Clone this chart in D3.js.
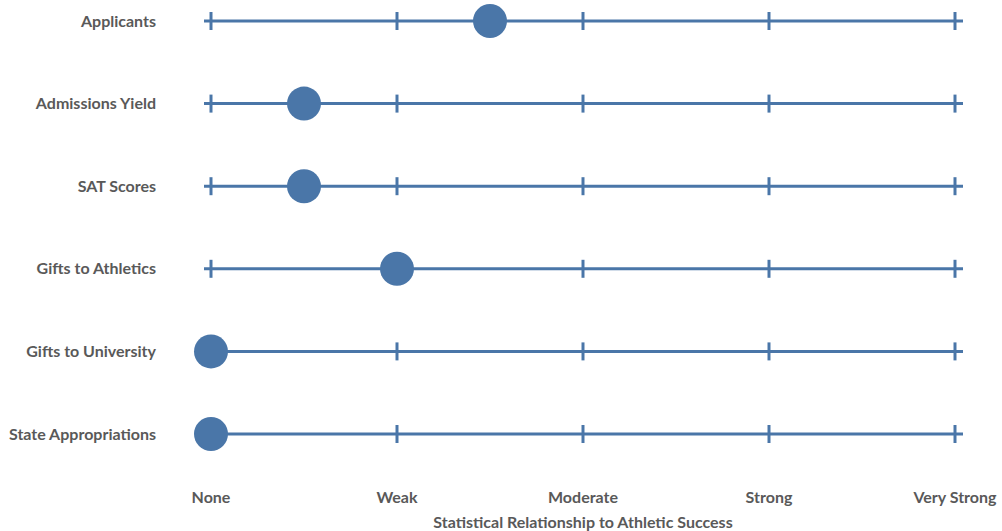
<!DOCTYPE html>
<html><head><meta charset="utf-8">
<script src="https://cdn.jsdelivr.net/npm/d3@7"></script>
<style>body{margin:0;background:#fff}text{font-family:Lato,"Open Sans",sans-serif;font-weight:bold;fill:#595959}</style>
</head><body><svg id="c" width="1002" height="531"></svg>
<script>
const categories = ["Applicants","Admissions Yield","SAT Scores","Gifts to Athletics","Gifts to University","State Appropriations"];
const values = [1.5, 0.5, 0.5, 1.0, 0, 0];
const tickLabels = ["None","Weak","Moderate","Strong","Very Strong"];
const axisTitle = "Statistical Relationship to Athletic Success";

const color = "#4a76a8";
const svg = d3.select("#c");
const x = d3.scaleLinear().domain([0,4]).range([211,955]);
const y = d3.scalePoint().domain(categories).range([21,434]);

const rows = svg.selectAll("g.row").data(categories).join("g").attr("class","row")
  .attr("transform", d => `translate(0,${y(d)})`);
rows.append("line").attr("x1", x(0)-7).attr("x2", x(4)+8).attr("y1",0).attr("y2",0)
  .attr("stroke", color).attr("stroke-width", 3);
rows.selectAll("line.tk").data(d3.range(5)).join("line").attr("class","tk")
  .attr("x1", d=>x(d)).attr("x2", d=>x(d)).attr("y1",-9).attr("y2",9)
  .attr("stroke", color).attr("stroke-width", 3);
rows.append("text").attr("x",156).attr("y",0).attr("dy","0.35em").attr("text-anchor","end")
  .attr("font-size",16).text(d=>d);
rows.append("circle").attr("cx",(d,i)=>x(values[i])).attr("cy",0).attr("r",17).attr("fill",color);

svg.selectAll("text.tl").data(tickLabels).join("text").attr("class","tl")
  .attr("x",(d,i)=>x(i)).attr("y",497).attr("dy","0.35em").attr("text-anchor","middle")
  .attr("font-size",16).text(d=>d);
svg.append("text").attr("x",583).attr("y",522).attr("dy","0.35em").attr("text-anchor","middle")
  .attr("font-size",16).text(axisTitle);
</script></body></html>
